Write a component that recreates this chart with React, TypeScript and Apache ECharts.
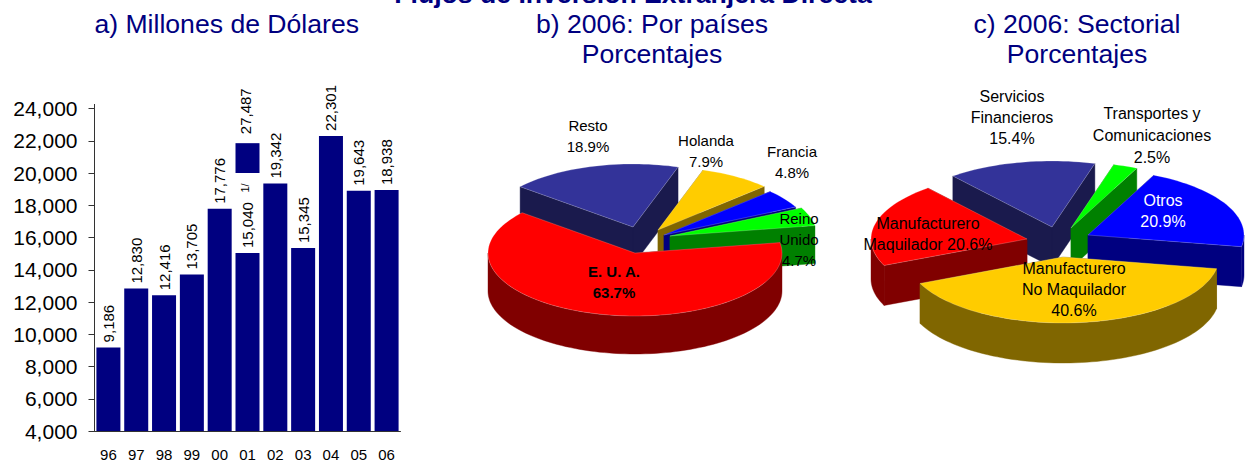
import React, { useEffect, useRef } from "react";
import * as echarts from "echarts";

const years = ["96", "97", "98", "99", "00", "01", "02", "03", "04", "05", "06"];
const flows = [9186, 12830, 12416, 13705, 17776, 15040, 19342, 15345, 22301, 18900, 18938];
const flowLabels = ["9,186", "12,830", "12,416", "13,705", "17,776", "15,040", "19,342", "15,345", "22,301", "19,643", "18,938"];
const brokenPiece = [[5, 20000, 21850, 27487]];
const brokenPieceLabel = "27,487";
const footnote = "1/";

const countryNames = ["E. U. A.", "Resto", "Holanda", "Francia", "Reino\nUnido"];
const countryValues = [63.7, 18.9, 7.9, 4.8, 4.7];

const sectorNames = ["Manufacturero\nNo Maquilador", "Manufacturero\nMaquilador", "Servicios\nFinancieros", "Transportes y\nComunicaciones", "Otros"];
const sectorValues = [40.6, 20.6, 15.4, 2.5, 20.9];

const FONT = '"Liberation Sans", Arial, sans-serif';
const NAVY = "#000080";

type PieLayout = {
  startDeg: number; rx: number; ry: number; depth: number;
  colors: string[]; walls: string[];
  apex: number[][];
  paintOrder: number[];
};

const countryLayout: PieLayout = {
  startDeg: 9.5, rx: 147, ry: 63, depth: 38,
  colors: ["#ff0000", "#333399", "#ffcc00", "#0000ff", "#00ff00"],
  walls: ["#800000", "#1a1a4d", "#806600", "#000080", "#008000"],
  apex: [[635, 253], [633, 227], [658, 230], [664, 235], [670, 236]],
  paintOrder: [1, 2, 3, 4, 0],
};

const sectorLayout: PieLayout = {
  startDeg: -10.2, rx: 156, ry: 66, depth: 40,
  colors: ["#ffcc00", "#ff0000", "#333399", "#00ff00", "#0000ff"],
  walls: ["#806600", "#800000", "#1a1a4d", "#008000", "#000080"],
  apex: [[1063, 257], [1027, 239], [1052, 227], [1071, 228], [1088, 235]],
  paintOrder: [2, 3, 4, 1, 0],
};

// the slices follow each other clockwise from startDeg (angles in the maths sense)
function pieSeries(values: number[], layout: PieLayout) {
  const total = values.reduce((a, b) => a + b, 0);
  const ranges: number[][] = [];
  let a = layout.startDeg;
  values.forEach((v) => {
    const s = (v / total) * 360;
    ranges.push([a, a - s]);
    a -= s;
  });
  const renderItem = (_p: any, api: any) => {
    const i = api.value(0);
    const [cx, cy] = layout.apex[i];
    const [a0, a1] = ranges[i];
    const pt = (deg: number, dy = 0) => [
      cx + layout.rx * Math.cos((deg * Math.PI) / 180),
      cy - layout.ry * Math.sin((deg * Math.PI) / 180) + dy,
    ];
    const d = layout.depth;
    const arc = (from: number, to: number, dy = 0) => {
      const n = Math.max(2, Math.ceil(Math.abs(from - to) / 2));
      const out: number[][] = [];
      for (let k = 0; k <= n; k++) out.push(pt(from + ((to - from) * k) / n, dy));
      return out;
    };
    const wall = layout.walls[i];
    const edge = "rgba(255,255,255,0.35)";
    const children: any[] = [];
    const face = (points: number[][]) =>
      children.push({ type: "polygon", shape: { points }, style: { fill: wall, stroke: wall, lineWidth: 0.4 } });
    face([[cx, cy], pt(a0), pt(a0, d), [cx, cy + d]]);
    face([[cx, cy], pt(a1), pt(a1, d), [cx, cy + d]]);
    // outer wall: only the part of the rim that faces the viewer
    for (let base = -720; base <= 360; base += 360) {
      const from = Math.min(a0, base + 360);
      const to = Math.max(a1, base + 180);
      if (from > to) face([...arc(from, to), ...arc(to, from, d)]);
    }
    children.push({
      type: "polygon",
      shape: { points: [[cx, cy], ...arc(a0, a1)] },
      style: { fill: layout.colors[i], stroke: edge, lineWidth: 0.6 },
    });
    return { type: "group", children };
  };
  return {
    type: "custom",
    coordinateSystem: "none",
    silent: true,
    data: layout.paintOrder.map((i) => [i]),
    renderItem,
  };
}

const pct = (v: number) => `${v.toFixed(1)}%`;

function label(text: string, x: number, y: number, size: number, opts: any = {}) {
  return {
    type: "text",
    x,
    y,
    z: 100,
    silent: true,
    style: {
      text,
      fontFamily: FONT,
      fontSize: size,
      fontWeight: opts.bold ? "bold" : "normal",
      fill: opts.fill || "#000000",
      align: "center",
      verticalAlign: "middle",
      lineHeight: opts.lineHeight || 21,
    },
  };
}

export default function App() {
  const ref = useRef<HTMLDivElement>(null);
  useEffect(() => {
    document.body.style.margin = "0";
    const chart = echarts.init(ref.current!, undefined, { renderer: "svg" });
    chart.setOption({
      animation: false,
      backgroundColor: "#ffffff",
      grid: { left: 94.5, top: 108.5, width: 306, height: 323, containLabel: false },
      xAxis: {
        type: "category",
        data: years,
        axisLine: { lineStyle: { color: "#333333", width: 1 } },
        axisTick: { length: 5, alignWithLabel: false, lineStyle: { color: "#333333" } },
        axisLabel: { fontFamily: FONT, fontSize: 15, color: "#000000", margin: 16 },
      },
      yAxis: {
        type: "value",
        min: 4000,
        max: 24000,
        interval: 2000,
        splitLine: { show: false },
        axisLine: { show: true, lineStyle: { color: "#333333", width: 1 } },
        axisTick: { show: true, length: 6, lineStyle: { color: "#333333" } },
        axisLabel: {
          fontFamily: FONT,
          fontSize: 21,
          color: "#000000",
          margin: 17,
          formatter: (v: number) => v.toLocaleString("en-US"),
        },
      },
      series: [
        {
          type: "bar",
          data: flows,
          barWidth: 24,
          itemStyle: { color: NAVY },
          label: {
            show: true,
            position: "top",
            rotate: 90,
            align: "left",
            verticalAlign: "middle",
            distance: 7,
            offset: [-2, 0],
            fontFamily: FONT,
            fontSize: 15,
            color: "#000000",
            formatter: (p: any) => flowLabels[p.dataIndex],
          },
        },
        {
          type: "custom",
          coordinateSystem: "cartesian2d",
          silent: true,
          data: brokenPiece,
          encode: { x: 0, y: [1, 2] },
          renderItem: (_p: any, api: any) => {
            const lo = api.coord([api.value(0), api.value(1)]);
            const hi = api.coord([api.value(0), api.value(2)]);
            return {
              type: "group",
              children: [
                { type: "rect", shape: { x: lo[0] - 12, y: hi[1], width: 24, height: lo[1] - hi[1] }, style: { fill: NAVY } },
                {
                  type: "text",
                  x: lo[0] - 2,
                  y: hi[1] - 9,
                  rotation: Math.PI / 2,
                  style: { text: brokenPieceLabel, fontFamily: FONT, fontSize: 15, fill: "#000000", align: "left", verticalAlign: "middle" },
                },
              ],
            };
          },
        },
        pieSeries(countryValues, countryLayout),
        pieSeries(sectorValues, sectorLayout),
      ],
      graphic: [
        { type: "line", silent: true, shape: { x1: 94.5, y1: 104, x2: 94.5, y2: 108.5 }, style: { stroke: "#333333", lineWidth: 1 } },
        {
          type: "text",
          x: 244.5,
          y: 188,
          z: 100,
          rotation: Math.PI / 2,
          silent: true,
          style: { text: footnote, fontFamily: FONT, fontSize: 11, fill: "#000000", align: "center", verticalAlign: "middle" },
        },
        label("Flujos de Inversión Extranjera Directa", 633, -6, 26.6, { bold: true, fill: NAVY, lineHeight: 30 }),
        label("a) Millones de Dólares", 226.7, 24, 26.6, { fill: NAVY, lineHeight: 30 }),
        label("b) 2006: Por países\nPorcentajes", 652, 39, 26.6, { fill: NAVY, lineHeight: 30 }),
        label("c) 2006: Sectorial\nPorcentajes", 1077, 39, 26.6, { fill: NAVY, lineHeight: 30 }),

        label(`${countryNames[1]}\n${pct(countryValues[1])}`, 588, 135.5, 15),
        label(`${countryNames[2]}\n${pct(countryValues[2])}`, 706, 150.5, 15),
        label(`${countryNames[3]}\n${pct(countryValues[3])}`, 792, 162, 15),
        label(`${countryNames[4]}\n${pct(countryValues[4])}`, 799, 239, 15),
        label(`${countryNames[0]}\n${pct(countryValues[0])}`, 614, 281.5, 15, { bold: true }),

        label(`${sectorNames[2]}\n${pct(sectorValues[2])}`, 1012, 117, 16),
        label(`${sectorNames[3]}\n${pct(sectorValues[3])}`, 1152, 135, 16, { lineHeight: 22 }),
        label(`${sectorNames[4]}\n${pct(sectorValues[4])}`, 1163, 211, 16, { fill: "#ffffff" }),
        label(`${sectorNames[1]} ${pct(sectorValues[1])}`, 928, 233.5, 16),
        label(`${sectorNames[0]}\n${pct(sectorValues[0])}`, 1074, 289, 16),
      ],
    });
    return () => chart.dispose();
  }, []);
  return <div ref={ref} style={{ position: "absolute", left: 0, top: 0, width: 1246, height: 462 }} />;
}
